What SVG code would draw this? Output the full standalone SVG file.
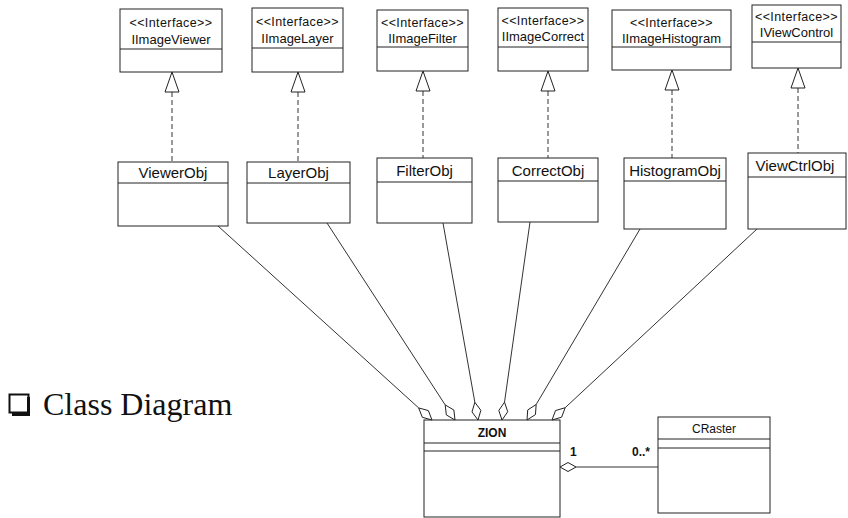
<svg xmlns="http://www.w3.org/2000/svg" width="848" height="518" viewBox="0 0 848 518">
<style>
.box{fill:#fff;stroke:#222;stroke-width:1}
.sep{stroke:#222;stroke-width:1}
.st{font-family:"Liberation Sans",Arial,sans-serif;font-size:12px;fill:#111;text-anchor:middle}
.ster{font-family:"Liberation Sans",Arial,sans-serif;font-size:12.5px;letter-spacing:0.4px;fill:#111;text-anchor:middle}
.nm{font-family:"Liberation Sans",Arial,sans-serif;font-size:13px;fill:#111;text-anchor:middle}
.cn{font-family:"Liberation Sans",Arial,sans-serif;font-size:15px;fill:#111;text-anchor:middle}
.dash{stroke:#333;stroke-width:1;stroke-dasharray:5,3;fill:none}
.ln{stroke:#333;stroke-width:1;fill:none}
.tri{fill:#fff;stroke:#222;stroke-width:1}
.dia{fill:#fff;stroke:#222;stroke-width:1}
.mult{font-family:"Liberation Sans",Arial,sans-serif;font-size:12px;font-weight:bold;fill:#111}
</style>
<rect width="848" height="518" fill="#fff"/>

<!-- Interfaces -->
<g id="IImageViewer"><rect class="box" x="120" y="9" width="102" height="63"/><line class="sep" x1="120" y1="49" x2="222" y2="49"/><text class="ster" x="171" y="27">&lt;&lt;Interface&gt;&gt;</text><text class="nm" x="171" y="44">IImageViewer</text></g>
<g id="IImageLayer"><rect class="box" x="252" y="8" width="91" height="64"/><line class="sep" x1="252" y1="48" x2="343" y2="48"/><text class="ster" x="297.5" y="26">&lt;&lt;Interface&gt;&gt;</text><text class="nm" x="297.5" y="43">IImageLayer</text></g>
<g id="IImageFilter"><rect class="box" x="377" y="10" width="91" height="61"/><line class="sep" x1="377" y1="47" x2="468" y2="47"/><text class="ster" x="422.5" y="27">&lt;&lt;Interface&gt;&gt;</text><text class="nm" x="422.5" y="43">IImageFilter</text></g>
<g id="IImageCorrect"><rect class="box" x="498" y="8" width="90" height="63"/><line class="sep" x1="498" y1="47" x2="588" y2="47"/><text class="ster" x="543" y="25">&lt;&lt;Interface&gt;&gt;</text><text class="nm" x="543" y="41">IImageCorrect</text></g>
<g id="IImageHistogram"><rect class="box" x="612" y="10" width="119" height="60"/><line class="sep" x1="612" y1="47" x2="731" y2="47"/><text class="ster" x="671.5" y="27">&lt;&lt;Interface&gt;&gt;</text><text class="nm" x="671.5" y="43">IImageHistogram</text></g>
<g id="IViewControl"><rect class="box" x="752" y="5" width="89" height="63"/><line class="sep" x1="752" y1="42" x2="841" y2="42"/><text class="ster" x="796.5" y="21">&lt;&lt;Interface&gt;&gt;</text><text class="nm" x="796.5" y="37">IViewControl</text></g>

<!-- Classes -->
<g id="ViewerObj"><rect class="box" x="118" y="162" width="110" height="64"/><line class="sep" x1="118" y1="183" x2="228" y2="183"/><text class="cn" x="173" y="178">ViewerObj</text></g>
<g id="LayerObj"><rect class="box" x="247" y="162" width="103" height="61"/><line class="sep" x1="247" y1="183" x2="350" y2="183"/><text class="cn" x="298.5" y="178">LayerObj</text></g>
<g id="FilterObj"><rect class="box" x="377" y="158" width="95" height="65"/><line class="sep" x1="377" y1="182" x2="472" y2="182"/><text class="cn" x="424.5" y="176">FilterObj</text></g>
<g id="CorrectObj"><rect class="box" x="498" y="158" width="100" height="64"/><line class="sep" x1="498" y1="181" x2="598" y2="181"/><text class="cn" x="548" y="176">CorrectObj</text></g>
<g id="HistogramObj"><rect class="box" x="624" y="158" width="102" height="71"/><line class="sep" x1="624" y1="181" x2="726" y2="181"/><text class="cn" x="675" y="176">HistogramObj</text></g>
<g id="ViewCtrlObj"><rect class="box" x="748" y="153" width="98" height="76"/><line class="sep" x1="748" y1="177" x2="846" y2="177"/><text class="cn" x="795" y="171">ViewCtrlObj</text></g>

<g id="ZION"><rect class="box" x="424" y="420" width="136" height="97"/><line class="sep" x1="424" y1="443" x2="560" y2="443"/><line class="sep" x1="424" y1="451" x2="560" y2="451"/><text class="st" x="492" y="437" font-weight="bold">ZION</text></g>
<g id="CRaster"><rect class="box" x="658" y="417" width="112" height="96"/><line class="sep" x1="658" y1="439" x2="770" y2="439"/><line class="sep" x1="658" y1="448" x2="770" y2="448"/><text class="st" x="714" y="433">CRaster</text></g>

<!-- Connectors -->
<g id="connectors">
<line class="dash" x1="172" y1="92" x2="172" y2="162"/><polygon class="tri" points="172,72 165,92 179,92"/>
<line class="dash" x1="298" y1="92" x2="298" y2="162"/><polygon class="tri" points="298,72 291,92 305,92"/>
<line class="dash" x1="423" y1="91" x2="423" y2="158"/><polygon class="tri" points="423,71 416,91 430,91"/>
<line class="dash" x1="548" y1="91" x2="548" y2="158"/><polygon class="tri" points="548,71 541,91 555,91"/>
<line class="dash" x1="672" y1="90" x2="672" y2="158"/><polygon class="tri" points="672,70 665,90 679,90"/>
<line class="dash" x1="798" y1="88" x2="798" y2="153"/><polygon class="tri" points="798,68 791,88 805,88"/>

<line class="ln" x1="218" y1="226" x2="418.66" y2="407.91"/><polygon class="dia" points="432,420 428.35,410.62 418.66,407.91 422.31,417.29"/>
<line class="ln" x1="327" y1="223" x2="445.19" y2="404.91"/><polygon class="dia" points="455,420 453.87,410.00 445.19,404.91 446.32,414.91"/>
<line class="ln" x1="443" y1="223" x2="474.85" y2="402.28"/><polygon class="dia" points="478,420 480.86,410.35 474.85,402.28 472.00,411.93"/>
<line class="ln" x1="530" y1="222" x2="504.52" y2="402.18"/><polygon class="dia" points="502,420 507.72,411.72 504.52,402.18 498.80,410.46"/>
<line class="ln" x1="640" y1="229" x2="536.17" y2="404.51"/><polygon class="dia" points="527,420 535.46,414.55 536.17,404.51 527.71,409.96"/>
<line class="ln" x1="757" y1="229" x2="565.17" y2="407.73"/><polygon class="dia" points="552,420 561.65,417.16 565.17,407.73 555.52,410.57"/>

<line class="ln" x1="576" y1="467" x2="658" y2="467"/><polygon class="dia" points="560,467 568,462.5 576,467 568,471.5"/>
<text class="mult" x="570" y="456">1</text>
<text class="mult" x="632" y="456">0..*</text>
</g>

<!-- Title -->
<g id="title">
<rect x="9.5" y="394.5" width="19" height="18" fill="#fff" stroke="#111" stroke-width="2"/>
<path d="M28.5 397 V414.5 H12" fill="none" stroke="#111" stroke-width="3"/>
<text x="43" y="415" font-family="Liberation Serif,'Times New Roman',serif" font-size="32" fill="#111">Class Diagram</text>
</g>
</svg>
